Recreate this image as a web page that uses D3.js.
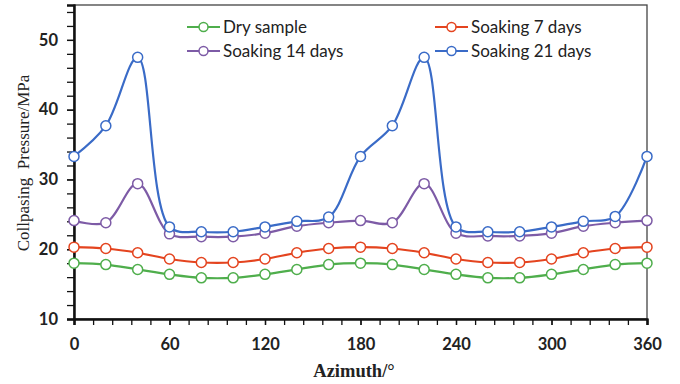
<!DOCTYPE html>
<html>
<head>
<meta charset="utf-8">
<script src="https://cdn.jsdelivr.net/npm/d3@7"></script>
<style>
  body { margin: 0; background: #fff; }
  .tick text { font-family: Lato, "Open Sans", sans-serif; font-size: 16.5px; font-weight: bold; fill: #222; }
  .legend text { font-family: Lato, "Open Sans", sans-serif; font-size: 17px; fill: #222; }
  .aTitle { font-family: "Liberation Serif", "DejaVu Serif", serif; font-size: 18.5px; font-weight: bold; fill: #222; white-space: pre; }
</style>
</head>
<body>
<script>
// Chart data
var azimuth = [0, 20, 40, 60, 80, 100, 120, 140, 160, 180, 200, 220, 240, 260, 280, 300, 320, 340, 360];
var drySample = [18.0, 17.8, 17.1, 16.4, 15.9, 15.9, 16.4, 17.1, 17.8, 18.0, 17.8, 17.1, 16.4, 15.9, 15.9, 16.4, 17.1, 17.8, 18.0];
var soak7 = [20.3, 20.1, 19.5, 18.6, 18.1, 18.1, 18.6, 19.5, 20.1, 20.3, 20.1, 19.5, 18.6, 18.1, 18.1, 18.6, 19.5, 20.1, 20.3];
var soak14 = [24.1, 23.8, 29.4, 22.2, 21.8, 21.8, 22.3, 23.3, 23.8, 24.1, 23.8, 29.4, 22.3, 21.9, 21.9, 22.3, 23.3, 23.8, 24.1];
var soak21 = [33.3, 37.7, 47.5, 23.2, 22.5, 22.5, 23.2, 24.0, 24.6, 33.3, 37.7, 47.5, 23.2, 22.5, 22.5, 23.2, 24.0, 24.7, 33.3];
var seriesNames = ["Dry sample", "Soaking 7 days", "Soaking 14 days", "Soaking 21 days"];
var xTicks = [0, 60, 120, 180, 240, 300, 360];
var yTicks = [10, 20, 30, 40, 50];

var colors = ["#4fae4c", "#e4441f", "#7d5ba6", "#3a6bc7"];

// Chart Params
var svgWidth = 680;
var svgHeight = 384;
var margin = { top: 5, right: 33, bottom: 65, left: 74 };
var width = svgWidth - margin.left - margin.right;
var height = svgHeight - margin.top - margin.bottom;

var svg = d3.select("body")
    .append("svg")
    .attr("width", svgWidth)
    .attr("height", svgHeight);

var chartGroup = svg.append("g")
    .attr("transform", `translate(${margin.left}, ${margin.top})`);

// scales
var xScale = d3.scaleLinear().domain([0, 360]).range([0, width]);
var yScale = d3.scaleLinear().domain([10, 55]).range([height, 0]);

// frame (top/right)
chartGroup.append("rect")
    .attr("width", width)
    .attr("height", height)
    .attr("fill", "none")
    .attr("stroke", "#444")
    .attr("stroke-width", 1.3);

// minor ticks
var xMinor = d3.range(0, 361, 12);
var yMinor = d3.range(10, 55.1, 2);

var xMinorAxis = chartGroup.append("g")
    .attr("transform", `translate(0, ${height})`)
    .call(d3.axisBottom(xScale).tickValues(xMinor).tickSize(6).tickFormat(""));
var yMinorAxis = chartGroup.append("g")
    .call(d3.axisLeft(yScale).tickValues(yMinor).tickSize(7).tickFormat(""));

// major axes
var bottomAxis = d3.axisBottom(xScale).tickValues(xTicks).tickSize(6).tickPadding(10);
var leftAxis = d3.axisLeft(yScale).tickValues(yTicks).tickSize(7).tickPadding(9);

var xAxisG = chartGroup.append("g")
    .attr("transform", `translate(0, ${height})`)
    .call(bottomAxis);
var yAxisG = chartGroup.append("g").call(leftAxis);

[xMinorAxis, yMinorAxis, xAxisG, yAxisG].forEach(function (g) {
    g.select(".domain").attr("stroke", "#111").attr("stroke-width", 2);
    g.selectAll(".tick line").attr("stroke", "#111").attr("stroke-width", 1.3);
});
xAxisG.selectAll(".tick text").attr("dy", "0.9em");

// lines
var allSeries = [drySample, soak7, soak14, soak21];
var line = d3.line()
    .x((d, i) => xScale(azimuth[i]))
    .y(d => yScale(d))
    .curve(d3.curveCatmullRom.alpha(0.5));

allSeries.forEach(function (vals, s) {
    chartGroup.append("path")
        .datum(vals)
        .attr("d", line)
        .attr("fill", "none")
        .attr("stroke", colors[s])
        .attr("stroke-width", 2.2);

    chartGroup.selectAll(".pt" + s)
        .data(vals)
        .enter()
        .append("circle")
        .attr("cx", (d, i) => xScale(azimuth[i]))
        .attr("cy", d => yScale(d))
        .attr("r", 5)
        .attr("fill", "#fff")
        .attr("stroke", colors[s])
        .attr("stroke-width", 1.5);
});

// legend
var legendPos = [[187, 27], [435, 27], [187, 51], [435, 51]];
var legend = svg.append("g").attr("class", "legend");
seriesNames.forEach(function (name, s) {
    var p = legendPos[s];
    var g = legend.append("g").attr("transform", `translate(${p[0]}, ${p[1]})`);
    g.append("line").attr("x1", 0).attr("x2", 33).attr("y1", 0).attr("y2", 0)
        .attr("stroke", colors[s]).attr("stroke-width", 2.2);
    g.append("circle").attr("cx", 16.5).attr("cy", 0).attr("r", 4.5)
        .attr("fill", "#fff").attr("stroke", colors[s]).attr("stroke-width", 1.5);
    g.append("text").attr("x", 36).attr("y", 0).attr("dy", "0.35em").text(name);
});

// axis titles
svg.append("text")
    .attr("class", "aTitle")
    .attr("x", 354)
    .attr("y", 377)
    .attr("text-anchor", "middle")
    .text("Azimuth/°");

svg.append("text")
    .attr("class", "aTitle")
    .attr("transform", "translate(29, 163) rotate(-90)")
    .attr("text-anchor", "middle")
    .style("font-weight", "normal")
    .style("font-size", "17px")
    .text("Collpasing  Pressure/MPa");
</script>
</body>
</html>
